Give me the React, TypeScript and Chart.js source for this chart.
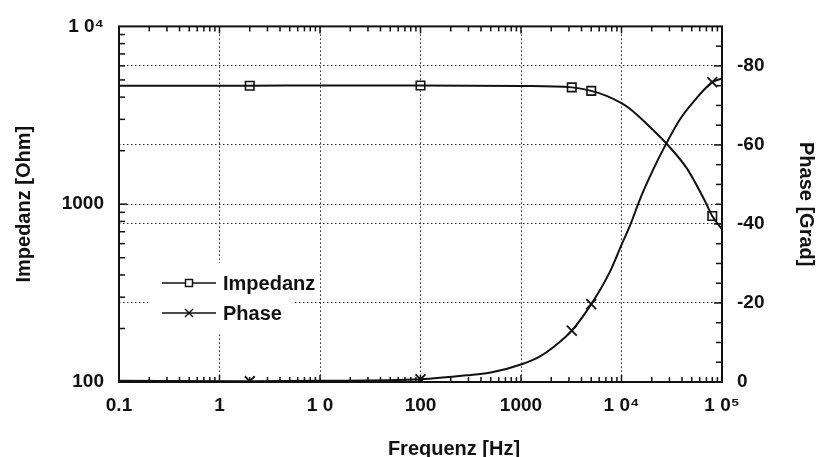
import { useEffect, useRef } from 'react';
import { Chart, registerables } from 'chart.js';

Chart.register(...registerables);

// ---- Data ----
const impFreq = [0.1, 1, 2, 10, 100, 1000, 3200, 5000, 7100, 10000, 12200, 20700, 27700, 44700, 67800, 80000, 100000];
const impedanz = [4640, 4640, 4640, 4650, 4650, 4620, 4540, 4340, 4070, 3700, 3430, 2610, 2210, 1590, 1040, 858, 723];

const phaseFreq = [0.1, 2, 10, 100, 318, 500, 1016, 1545, 2094, 3200, 5000, 7700, 10000, 12200, 15300, 20700, 27700, 38200, 50000, 80000, 100000];
const phase = [-0.3, -0.2, -0.3, -0.7, -1.8, -2.4, -4.5, -6.5, -8.8, -13, -19.7, -28, -34.7, -39.7, -46.3, -53.8, -60.2, -66.5, -70.4, -75.9, -76.8];

const markerFreq = [2, 100, 3200, 5000, 80000];
const impMarkers = [4640, 4650, 4540, 4340, 858];
const phaseMarkers = [-0.2, -0.7, -13, -19.7, -75.9];

const xMajorTicks = [0.1, 1, 10, 100, 1000, 10000, 100000];
const xTickLabels = ['0.1', '1', '1 0', '100', '1000', '1 0\u2074', '1 0\u2075'];
const yMajorTicks = [100, 1000, 10000];
const yTickLabels = ['100', '1000', '1 0\u2074'];
const phaseLabelTicks = [0, -20, -40, -60, -80];

const FONT = "'Liberation Sans', Arial, Helvetica, sans-serif";
const INK = '#111';

const near = (a: number, b: number) => Math.abs(a - b) <= Math.abs(b) * 1e-6 + 1e-9;
const idxOf = (arr: number[], v: number) => arr.findIndex((m) => near(v, m));

function logTicks(minExp: number, maxExp: number) {
  const out: { value: number }[] = [];
  for (let e = minExp; e < maxExp; e++) {
    for (let m = 1; m < 10; m++) out.push({ value: m * Math.pow(10, e) });
  }
  out.push({ value: Math.pow(10, maxExp) });
  return out;
}

const framePlugin = {
  id: 'frameTicksLegend',
  afterDraw(chart: any) {
    const { ctx, chartArea: a, scales } = chart;
    const x = scales.x;
    const y = scales.y;
    const y1 = scales.y1;
    const line = (x1: number, yy1: number, x2: number, yy2: number) => {
      ctx.beginPath();
      ctx.moveTo(x1, yy1);
      ctx.lineTo(x2, yy2);
      ctx.stroke();
    };
    ctx.save();
    ctx.strokeStyle = INK;
    ctx.lineWidth = 1.5;
    x.ticks.forEach((t: any) => {
      const px = x.getPixelForValue(t.value);
      if (px <= a.left + 1 || px >= a.right - 1) return;
      const len = idxOf(xMajorTicks, t.value) >= 0 ? 7 : 5;
      line(px, a.bottom, px, a.bottom - len);
      line(px, a.top, px, a.top + len);
    });
    y.ticks.forEach((t: any) => {
      const py = y.getPixelForValue(t.value);
      if (py <= a.top + 1 || py >= a.bottom - 1) return;
      const len = idxOf(yMajorTicks, t.value) >= 0 ? 8 : 6;
      line(a.left, py, a.left + len, py);
    });
    y1.ticks.forEach((t: any) => {
      const py = y1.getPixelForValue(t.value);
      if (py <= a.top + 1 || py >= a.bottom - 1) return;
      const len = phaseLabelTicks.includes(t.value) ? 8 : 6;
      line(a.right, py, a.right - len, py);
    });
    ctx.lineWidth = 2;
    ctx.strokeRect(a.left, a.top, a.right - a.left, a.bottom - a.top);

    // legend
    ctx.fillStyle = '#fff';
    ctx.fillRect(148, 263, 147, 69);
    ctx.strokeStyle = INK;
    ctx.lineWidth = 1.5;
    const rows = [
      { label: 'Impedanz', y: 283, kind: 'rect' },
      { label: 'Phase', y: 313, kind: 'cross' },
    ];
    rows.forEach((r) => {
      line(162, r.y, 216, r.y);
      if (r.kind === 'rect') {
        ctx.fillStyle = '#fff';
        ctx.fillRect(185.5, r.y - 3.5, 7, 7);
        ctx.strokeRect(185.5, r.y - 3.5, 7, 7);
      } else {
        line(185, r.y - 4, 193, r.y + 4);
        line(185, r.y + 4, 193, r.y - 4);
      }
      ctx.fillStyle = INK;
      ctx.font = `bold 20px ${FONT}`;
      ctx.textAlign = 'left';
      ctx.textBaseline = 'middle';
      ctx.fillText(r.label, 223, r.y + 1);
    });

    // x-axis title
    ctx.fillStyle = INK;
    ctx.font = `bold 20px ${FONT}`;
    ctx.textAlign = 'center';
    ctx.textBaseline = 'alphabetic';
    ctx.fillText('Frequenz [Hz]', 454, 455);
    ctx.restore();
  },
};

export default function App() {
  const ref = useRef<HTMLCanvasElement | null>(null);

  useEffect(() => {
    document.body.style.margin = '0';
    if (!ref.current) return;
    const tickFont = { family: FONT, size: 19, weight: 'bold' as const };
    const titleFont = { family: FONT, size: 20, weight: 'bold' as const };
    const dotted = [1.5, 2.5];

    const chart = new Chart(ref.current, {
      type: 'line',
      data: {
        datasets: [
          {
            label: 'Impedanz',
            data: impFreq.map((f, i) => ({ x: f, y: impedanz[i] })),
            yAxisID: 'y',
            borderColor: INK,
            borderWidth: 2,
            pointRadius: 0,
            cubicInterpolationMode: 'monotone',
            fill: false,
          },
          {
            label: 'Phase',
            data: phaseFreq.map((f, i) => ({ x: f, y: phase[i] })),
            yAxisID: 'y1',
            borderColor: INK,
            borderWidth: 2,
            pointRadius: 0,
            cubicInterpolationMode: 'monotone',
            fill: false,
          },
          {
            label: 'Impedanz markers',
            data: markerFreq.map((f, i) => ({ x: f, y: impMarkers[i] })),
            yAxisID: 'y',
            showLine: false,
            pointStyle: 'rect',
            pointRadius: 6,
            pointBackgroundColor: '#fff',
            pointBorderColor: INK,
            pointBorderWidth: 1.6,
          },
          {
            label: 'Phase markers',
            data: markerFreq.map((f, i) => ({ x: f, y: phaseMarkers[i] })),
            yAxisID: 'y1',
            showLine: false,
            pointStyle: 'crossRot',
            pointRadius: 7,
            pointBorderColor: INK,
            pointBorderWidth: 1.8,
          },
        ],
      },
      options: {
        responsive: false,
        animation: false,
        events: [],
        layout: { padding: { top: 23, left: 0, right: 0, bottom: 0 } },
        plugins: { legend: { display: false }, tooltip: { enabled: false } },
        scales: {
          x: {
            type: 'logarithmic',
            min: 0.1,
            max: 100000,
            afterBuildTicks: (s: any) => {
              s.ticks = logTicks(-1, 5);
            },
            afterFit: (s: any) => {
              s.height = 75;
            },
            ticks: {
              autoSkip: false,
              maxRotation: 0,
              padding: 12,
              color: INK,
              font: tickFont,
              callback: (v: any) => {
                const i = idxOf(xMajorTicks, Number(v));
                return i >= 0 ? xTickLabels[i] : '';
              },
            },
            grid: {
              drawTicks: false,
              color: '#222',
              lineWidth: (c: any) => {
                const v = c.tick ? c.tick.value : 0;
                const i = idxOf(xMajorTicks, v);
                return i > 0 && i < xMajorTicks.length - 1 ? 1 : 0;
              },
            },
            border: { display: false, dash: dotted },
          },
          y: {
            type: 'logarithmic',
            position: 'left',
            min: 100,
            max: 10000,
            afterBuildTicks: (s: any) => {
              s.ticks = logTicks(2, 4);
            },
            afterFit: (s: any) => {
              s.width = 119;
            },
            ticks: {
              autoSkip: false,
              padding: 15,
              color: INK,
              font: tickFont,
              callback: (v: any) => {
                const i = idxOf(yMajorTicks, Number(v));
                return i >= 0 ? yTickLabels[i] : '';
              },
            },
            grid: {
              drawTicks: false,
              color: '#222',
              lineWidth: (c: any) => {
                const v = c.tick ? c.tick.value : 0;
                return near(v, 1000) ? 1 : 0;
              },
            },
            border: { display: false, dash: dotted },
            title: {
              display: true,
              text: 'Impedanz [Ohm]',
              color: INK,
              font: titleFont,
              padding: { top: 12, bottom: 0 },
            },
          },
          y1: {
            type: 'linear',
            position: 'right',
            min: -90,
            max: 0,
            reverse: true,
            afterFit: (s: any) => {
              s.width = 96;
            },
            ticks: {
              stepSize: 5,
              autoSkip: false,
              padding: 15,
              color: INK,
              font: tickFont,
              callback: (v: any) => (phaseLabelTicks.includes(Number(v)) ? String(v) : ''),
            },
            grid: {
              drawTicks: false,
              color: '#222',
              lineWidth: (c: any) => {
                const v = c.tick ? c.tick.value : 0;
                return v !== 0 && phaseLabelTicks.includes(v) ? 1 : 0;
              },
            },
            border: { display: false, dash: dotted },
            title: {
              display: true,
              text: 'Phase [Grad]',
              color: INK,
              font: titleFont,
              padding: { top: 0, bottom: 0 },
            },
          },
        },
      } as any,
      plugins: [framePlugin],
    });
    return () => chart.destroy();
  }, []);

  return (
    <div style={{ width: 818, height: 457, background: '#fff' }}>
      <canvas ref={ref} width={818} height={457} style={{ display: 'block' }} />
    </div>
  );
}
